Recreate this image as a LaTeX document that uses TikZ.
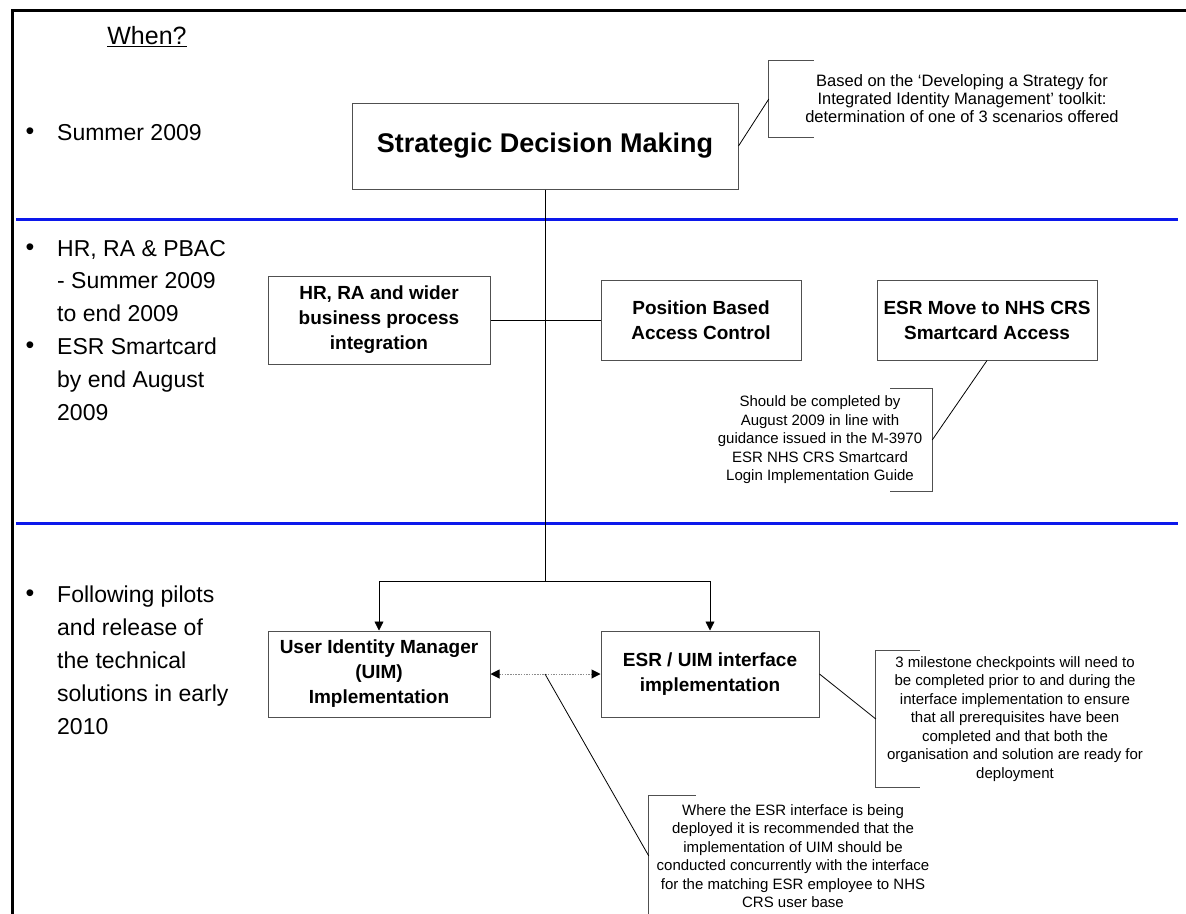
\documentclass[tikz,border=0pt]{standalone}
\usepackage{fontspec}
\setmainfont{Liberation Sans}
\usetikzlibrary{arrows.meta, positioning}
\definecolor{bandBlue}{RGB}{12,24,235}
\definecolor{boxEdge}{HTML}{505050}
\definecolor{dotGray}{HTML}{8C8C8C}
\tikzset{
  stagebox/.style={rectangle, draw=boxEdge, line width=1bp, fill=white,
                   align=center, font=\fontsize{19bp}{25bp}\selectfont\bfseries,
                   inner sep=4bp},
  notetext/.style={rectangle, align=center, inner sep=0pt,
                   font=\fontsize{15bp}{18.5bp}\selectfont},
  whentext/.style={anchor=north west, align=left, inner sep=0pt,
                   font=\fontsize{23bp}{32.6bp}\selectfont},
  bulletdot/.style={inner sep=0pt, font=\fontsize{25bp}{25bp}\selectfont},
  bandline/.style={bandBlue, line width=3bp},
  linkK/.style={black, line width=0.8bp},
  bracketK/.style={boxEdge, line width=0.9bp},
  arrowK/.style={-{Triangle[length=9bp, width=9bp]}, black, line width=0.8bp},
  arrowDot/.style={{Triangle[length=9bp, width=9bp, color=black]}-{Triangle[length=9bp, width=9bp, color=black]},
                   dotGray, line width=1bp, dash pattern=on 1.5bp off 1.2bp},
}

\begin{document}
\begin{tikzpicture}[x=1bp, y=-1bp]
  \useasboundingbox (0,0) rectangle (1186,914);

  % frame and time bands
  \draw[line width=3bp] (1186,10) -- (12,10) -- (12,914);
  \draw[bandline] (16,219) -- (1178,219);
  \draw[bandline] (16,523) -- (1178,523);

  % When? column
  \node[font=\fontsize{25bp}{31bp}\selectfont, inner sep=0pt] (when) at (147,37) {\underline{When?}};
  \node[bulletdot] (b1) at (30,134) {\textbullet};
  \node[whentext] (t1) at (57,124) {Summer 2009};
  \node[bulletdot] (b2) at (30,250) {\textbullet};
  \node[whentext] (t2) at (57,240) {HR, RA \& PBAC\\- Summer 2009\\to end 2009};
  \node[bulletdot] (b3) at (30,348) {\textbullet};
  \node[whentext] (t3) at (57,338) {ESR Smartcard\\by end August\\2009};
  \node[bulletdot] (b4) at (30,596) {\textbullet};
  \node[whentext, font=\fontsize{23bp}{33bp}\selectfont] (t4) at (57,586)
       {Following pilots\\and release of\\the technical\\solutions in early\\2010};

  % strategy
  \node[stagebox, minimum width=386bp, minimum height=86bp,
        font=\fontsize{27bp}{30bp}\selectfont\bfseries] (sdm) at (545,146) {Strategic Decision Making};
  \node[notetext, minimum width=386bp, minimum height=76bp,
        font=\fontsize{16.5bp}{18bp}\selectfont] (note1) at (962,99)
       {Based on the ‘Developing a Strategy for\\Integrated Identity Management’ toolkit:\\determination of one of 3 scenarios offered};
  \draw[bracketK] ([xshift=45bp]note1.north west) -- (note1.north west)
                  -- (note1.south west) -- ([xshift=45bp]note1.south west);
  \draw[linkK] (sdm.east) -- (note1.west);

  % 2009 work streams
  \node[stagebox, minimum width=222bp, minimum height=88bp] (hr) at (379,320)
       {HR, RA and wider\\business process\\integration};
  \node[stagebox, minimum width=200bp, minimum height=80bp, right=110bp of hr] (pbac)
       {Position Based\\Access Control};
  \node[stagebox, minimum width=220bp, minimum height=80bp, right=75bp of pbac] (esr)
       {ESR Move to NHS CRS\\Smartcard Access};
  \draw[linkK] (hr.east) -- (pbac.west);
  \node[notetext, minimum width=224bp, minimum height=102bp] (note2) at (820,440)
       {Should be completed by\\August 2009 in line with\\guidance issued in the M-3970\\ESR NHS CRS Smartcard\\Login Implementation Guide};
  \draw[bracketK] ([xshift=-42bp]note2.north east) -- (note2.north east)
                  -- (note2.south east) -- ([xshift=-42bp]note2.south east);
  \draw[linkK] (esr.south) -- (note2.east);

  % 2010 roll-out
  \node[stagebox, minimum width=222bp, minimum height=86bp] (uim) at (379,674)
       {User Identity Manager\\(UIM)\\Implementation};
  \node[stagebox, minimum width=218bp, minimum height=86bp, right=110bp of uim] (eui)
       {ESR / UIM interface\\implementation};
  \coordinate (split) at (545,581);
  \draw[linkK] (sdm.south) -- (split);
  \draw[arrowK] (split) -| (uim.north);
  \draw[arrowK] (split) -| (eui.north);
  \draw[arrowDot] (uim.east) -- (eui.west);
  \coordinate (mid) at (uim.east -| split);

  \node[notetext, minimum width=278bp, minimum height=137bp] (note3) at (1015,719)
       {3 milestone checkpoints will need to\\be completed prior to and during the\\interface implementation to ensure\\that all prerequisites have been\\completed and that both the\\organisation and solution are ready for\\deployment};
  \draw[bracketK] ([xshift=44bp]note3.north west) -- (note3.north west)
                  -- (note3.south west) -- ([xshift=44bp]note3.south west);
  \draw[linkK] (eui.east) -- (note3.west);

  \node[notetext, minimum width=288bp, minimum height=120bp] (note4) at (793,856)
       {Where the ESR interface is being\\deployed it is recommended that the\\implementation of UIM should be\\conducted concurrently with the interface\\for the matching ESR employee to NHS\\CRS user base};
  \draw[bracketK] ([xshift=47bp]note4.north west) -- (note4.north west) -- (note4.south west);
  \draw[linkK] (mid) -- (note4.west);
\end{tikzpicture}
\end{document}
